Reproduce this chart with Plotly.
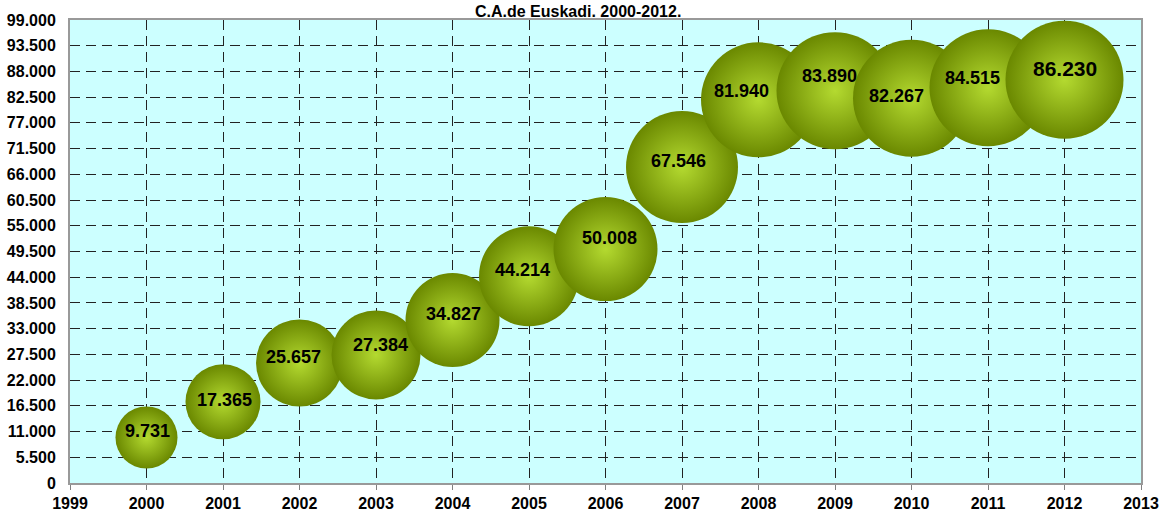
import plotly.graph_objects as go

years = [2000, 2001, 2002, 2003, 2004, 2005, 2006, 2007, 2008, 2009, 2010, 2011, 2012]
values = [9731, 17365, 25657, 27384, 34827, 44214, 50008, 67546, 81940, 83890, 82267, 84515, 86230]
# relative bubble size (third dimension)
bubble_size = [62, 75, 87, 89, 94, 100, 104, 112, 115, 117, 117, 117, 118]
y_ticks = list(range(0, 99001, 5500))
x_ticks = list(range(1999, 2014))
title_text = "C.A.de Euskadi. 2000-2012."

# label offsets in pixels (dx, dy) relative to bubble centre, as placed in the original
label_offsets = [(1, 6), (1, 2), (-6, 6), (4, 10), (1, 6), (-7, 6), (4, 11), (-4, 6),
                 (-17, 9), (-6, 15), (-15, 2), (-16, 10), (0, 11)]
label_sizes = [18] * 12 + [21]


def fmt(v):
    return f"{v:,}".replace(",", ".")


fig = go.Figure()
fig.add_trace(go.Scatter(
    x=years, y=values, mode="markers",
    marker=dict(
        size=bubble_size, sizemode="diameter", sizeref=1,
        color="#6A8800", opacity=1,
        gradient=dict(type="radial", color="#B4DA30"),
        line=dict(width=0),
    ),
    cliponaxis=False, hoverinfo="x+y", showlegend=False,
))

for x, v, (dx, dy), fs in zip(years, values, label_offsets, label_sizes):
    fig.add_annotation(x=x, y=v, text=fmt(v), showarrow=False,
                       xshift=dx, yshift=dy,
                       font=dict(family="Liberation Sans, Arial", size=fs, color="black", weight="bold"))

fig.add_annotation(xref="paper", yref="paper", x=(577.5 - 70) / 1071, y=1,
                   xanchor="center", yanchor="bottom", yshift=-1, borderpad=0,
                   text=title_text, showarrow=False,
                   font=dict(family="Liberation Sans, Arial", size=16, color="black", weight="bold"))

axis_font = dict(family="Liberation Sans, Arial", size=16, color="black", weight="bold")
fig.update_layout(
    width=1161, height=513,
    margin=dict(l=70, r=20, t=20, b=30, autoexpand=False),
    paper_bgcolor="white", plot_bgcolor="#CCFFFF",
    separators=",.",
    xaxis=dict(range=[1999, 2013], tickmode="array", tickvals=x_ticks,
               ticks="outside", ticklen=5, tickcolor="#808080", tickfont=axis_font,
               showgrid=True, gridcolor="#222222", griddash="10px,6px", gridwidth=1,
               showline=True, linecolor="#999999", linewidth=2, mirror=True,
               zeroline=False, automargin=False),
    yaxis=dict(range=[0, 99000], tickmode="array", tickvals=y_ticks,
               ticktext=[fmt(t) for t in y_ticks],
               ticks="outside", ticklen=9, tickcolor="rgba(0,0,0,0)", tickfont=axis_font,
               showgrid=True, gridcolor="#222222", griddash="10px,6px", gridwidth=1,
               showline=True, linecolor="#999999", linewidth=2, mirror=True,
               zeroline=False, automargin=False),
)

fig.write_html("out.html",
               config={"displayModeBar": False},
               post_script="document.body.style.margin='0';document.body.style.overflow='hidden';")
